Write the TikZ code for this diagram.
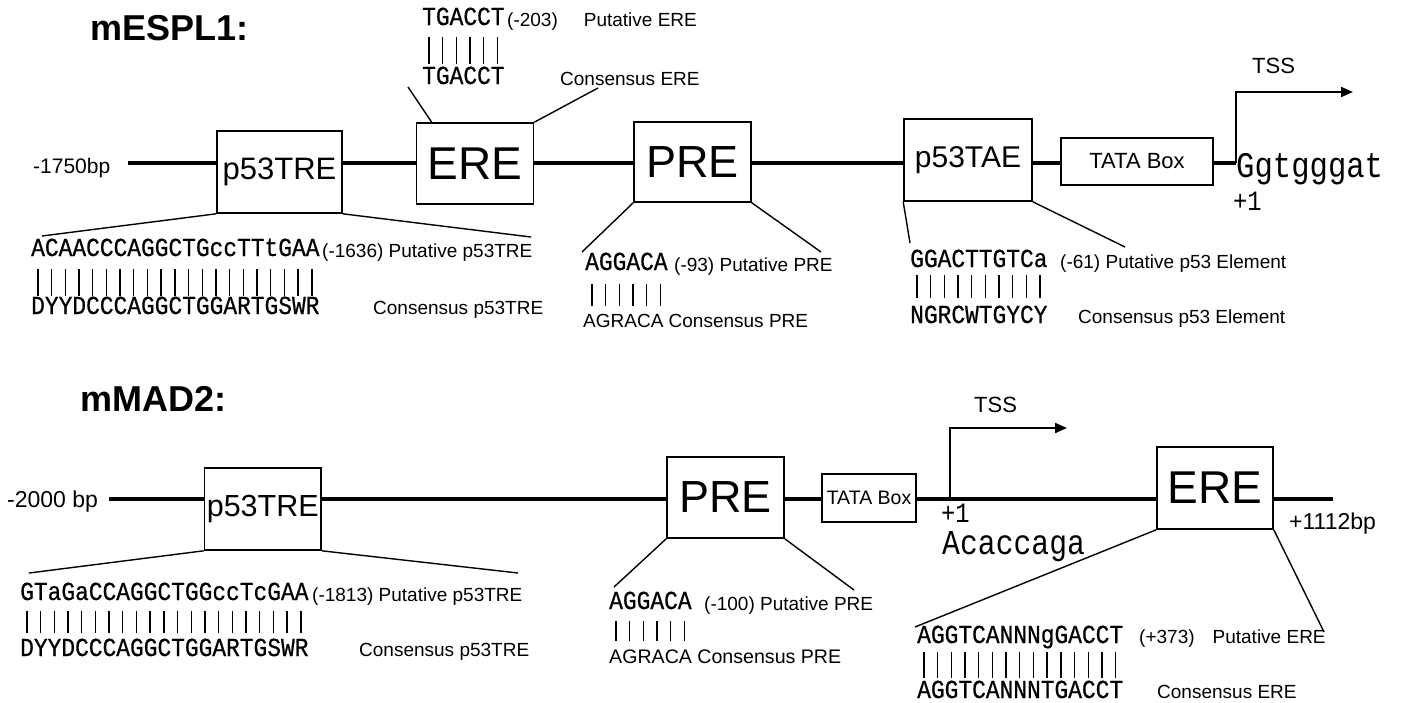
\documentclass[tikz,border=0pt]{standalone}
\usepackage{fontspec}
\setmainfont{Liberation Sans}
\newfontfamily\seqfont[FakeStretch=0.88,FakeBold=0.6]{Liberation Mono}
\newfontfamily\startfont[FakeStretch=0.85]{Liberation Mono}
\usetikzlibrary{arrows.meta,positioning}
\newcommand{\fs}[1]{\fontsize{#1}{#1}\selectfont}
% match bars under a sequence: first char x, count, top, bottom
\newcommand{\matchbars}[4]{%
  \foreach \k in {1,...,#2}
    \draw[bar] ({#1+(\k-0.5)*13.7},#3) -- ({#1+(\k-0.5)*13.7},#4);}

\begin{document}
\begin{tikzpicture}[x=1pt,y=-1pt,
  element/.style={draw,line width=1.6pt,fill=white,inner sep=0pt},
  dna/.style={line width=4pt},
  leader/.style={line width=1.4pt},
  bar/.style={line width=1.4pt},
  tss/.style={line width=2pt,-{Triangle[length=12pt,width=10pt]}},
  seq/.style={anchor=base west,inner sep=0pt,font=\seqfont\fs{26}},
  note/.style={anchor=base west,inner sep=0pt,font=\fs{19}},
  title/.style={anchor=base west,inner sep=0pt,font=\bfseries\fs{36}}]
\useasboundingbox (0,0) rectangle (1402,702);

% ---------------- mESPL1
\node[title] (name1) at (90,40) {mESPL1:};
\node[note,font=\fs{21}] (from1) at (33,173) {-1750bp};
\coordinate (s1) at (128,163);
\coordinate (tss1) at (1236,163);
\coordinate (tip1) at (1353,92);
\draw[dna] (s1) -- (tss1);
\draw[tss] (tss1) |- (tip1);
\node[note,font=\fs{22}] (tsslbl1) at (1252,73) {TSS};
\node[anchor=base west,inner sep=0pt,font=\startfont\fs{36}] (seqstart1) at (1236,177) {Ggtgggat};
\node[anchor=base west,inner sep=0pt,font=\startfont\fs{28}] (plus1) at (1233,210) {+1};

\node[element,minimum width=125,minimum height=82,font=\fs{31}] (tre1) at (279.5,172) {p53TRE};
\node[element,minimum width=117,minimum height=81,font=\fs{46}] (ere1) at (475,163.5) {ERE};
\node[element,minimum width=117,minimum height=80,font=\fs{45}] (pre1) at (692.5,162) {PRE};
\node[element,minimum width=128,minimum height=82,font=\fs{30}] (tae1) at (968,160) {p53TAE};
\node[element,minimum width=152,minimum height=47,font=\fs{22}] (tata1) at (1137,161.5) {TATA Box};

% ERE site
\node[seq] (ereput1) at (422,25) {TGACCT};
\node[note] (erelbl1) at (507,26) {(-203)\hspace{26pt}Putative ERE};
\matchbars{422}{6}{37}{64}
\node[seq] (erecons1) at (422,84) {TGACCT};
\node[note] (ereclbl1) at (560,85) {Consensus ERE};
% p53TRE site
\node[seq] (treput1) at (31,256) {ACAACCCAGGCTGccTTtGAA};
\node[note] (trelbl1) at (322,257) {(-1636) Putative p53TRE};
\matchbars{31}{21}{269}{296}
\node[seq] (trecons1) at (31,314) {DYYDCCCAGGCTGGARTGSWR};
\node[note] (treclbl1) at (373,314) {Consensus p53TRE};
% PRE site
\node[seq] (preput1) at (585,270) {AGGACA};
\node[note] (prelbl1) at (674,271) {(-93) Putative PRE};
\matchbars{585}{6}{284}{306}
\node[note] (precons1) at (583,327) {AGRACA Consensus PRE};
% p53 element
\node[seq] (taeput1) at (910,267) {GGACTTGTCa};
\node[note] (taelbl1) at (1060,268) {(-61) Putative p53 Element};
\matchbars{910}{10}{275}{298}
\node[seq] (taecons1) at (910,323) {NGRCWTGYCY};
\node[note] (taeclbl1) at (1078,323) {Consensus p53 Element};

\coordinate (a1) at (42,236);
\coordinate (a2) at (531,237);
\coordinate (a3) at (408,87);
\coordinate (a4) at (598,88);
\coordinate (a5) at (582,252);
\coordinate (a6) at (821,252);
\coordinate (a7) at (910,243);
\coordinate (a8) at (1125,247);
\draw[leader] (tre1.south west) -- (a1);
\draw[leader] (tre1.south east) -- (a2);
\draw[leader] ([xshift=16pt]ere1.north west) -- (a3);
\draw[leader] (ere1.north east) -- (a4);
\draw[leader] (pre1.south west) -- (a5);
\draw[leader] (pre1.south east) -- (a6);
\draw[leader] (tae1.south west) -- (a7);
\draw[leader] (tae1.south east) -- (a8);

% ---------------- mMAD2
\node[title] (name2) at (80,411) {mMAD2:};
\node[note,font=\fs{23}] (from2) at (7,507) {-2000 bp};
\node[note,font=\fs{23}] (to2) at (1289,529) {+1112bp};
\coordinate (s2) at (109,499);
\coordinate (e2) at (1333,499);
\coordinate (tss2) at (950,499);
\coordinate (tip2) at (1067,428);
\draw[dna] (s2) -- (e2);
\draw[tss] (tss2) |- (tip2);
\node[note,font=\fs{22}] (tsslbl2) at (974,412) {TSS};
\node[anchor=base west,inner sep=0pt,font=\startfont\fs{28}] (plus2) at (941,522) {+1};
\node[anchor=base west,inner sep=0pt,font=\startfont\fs{35}] (seqstart2) at (942,554) {Acaccaga};

\node[element,minimum width=116.5,minimum height=82,font=\fs{30.5}] (tre2) at (262.75,509) {p53TRE};
\node[element,minimum width=117,minimum height=81,font=\fs{45}] (pre2) at (725.5,497.5) {PRE};
\node[element,minimum width=94,minimum height=48,font=\fs{19.5}] (tata2) at (869,498) {TATA Box};
\node[element,minimum width=116,minimum height=82,font=\fs{46}] (ere2) at (1215,488) {ERE};

% p53TRE site
\node[seq] (treput2) at (20,600) {GTaGaCCAGGCTGGccTcGAA};
\node[note] (trelbl2) at (312,601) {(-1813) Putative p53TRE};
\matchbars{20}{21}{611}{633}
\node[seq] (trecons2) at (20,656) {DYYDCCCAGGCTGGARTGSWR};
\node[note] (treclbl2) at (359,656) {Consensus p53TRE};
% PRE site
\node[seq] (preput2) at (609,609) {AGGACA};
\node[note] (prelbl2) at (704,610) {(-100) Putative PRE};
\matchbars{609}{6}{621}{641}
\node[note,font=\fs{19.6}] (precons2) at (609,663) {AGRACA Consensus PRE};
% ERE site
\node[seq] (ereput2) at (917,643) {AGGTCANNNgGACCT};
\node[note] (erelbl2) at (1139,643) {(+373)\hspace{18pt}Putative ERE};
\matchbars{917}{15}{652}{678}
\node[seq] (erecons2) at (917,698) {AGGTCANNNTGACCT};
\node[note] (ereclbl2) at (1157,698) {Consensus ERE};

\coordinate (b1) at (29,573);
\coordinate (b2) at (518,573);
\coordinate (b3) at (614,587);
\coordinate (b4) at (854,590);
\coordinate (b5) at (915,627);
\coordinate (b6) at (1324,632);
\draw[leader] (tre2.south west) -- (b1);
\draw[leader] (tre2.south east) -- (b2);
\draw[leader] (pre2.south west) -- (b3);
\draw[leader] (pre2.south east) -- (b4);
\draw[leader] (ere2.south west) -- (b5);
\draw[leader] (ere2.south east) -- (b6);
\end{tikzpicture}
\end{document}
